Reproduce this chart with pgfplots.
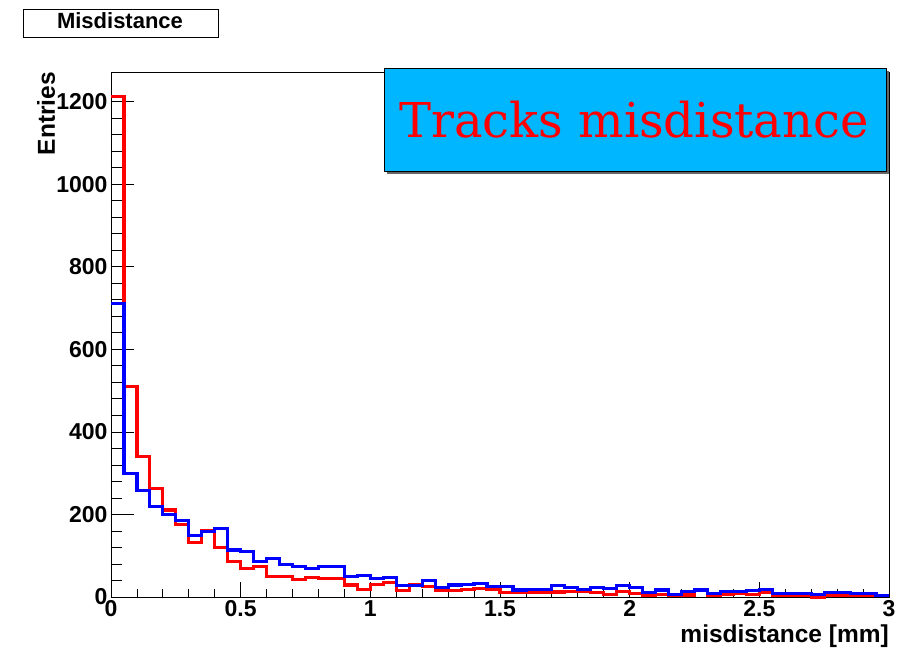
\documentclass[border=0pt]{standalone}
\usepackage{fontspec}
\setmainfont{Liberation Sans}
\newfontfamily\seriffont{DejaVu Serif}
\usepackage{pgfplots}
\pgfplotsset{compat=1.18}
\definecolor{boxblue}{RGB}{0,182,255}

\begin{document}
\begin{tikzpicture}[x=1pt,y=1pt]
\useasboundingbox (0,0) rectangle (906,649);
\begin{axis}[
  at={(111pt,52pt)}, anchor=south west,
  width=778pt, height=525pt, scale only axis,
  xmin=0, xmax=3, ymin=0, ymax=1272,
  clip=false,
  axis line style={black, line width=0.8pt},
  tick pos=left, tick align=inside,
  xtick={0,0.5,1,1.5,2,2.5,3},
  xticklabels={0,0.5,1,1.5,2,2.5,3},
  ytick={0,200,400,600,800,1000,1200},
  yticklabels={0,200,400,600,800,1000,1200},
  minor x tick num=4, minor y tick num=4,
  major tick length=23pt, minor tick length=11pt,
  xtick style={/pgfplots/major tick length=15pt, /pgfplots/minor tick length=8pt, black, line width=0.8pt},
  ytick style={black, line width=0.8pt},
  tick label style={font=\fontsize{23}{23}\selectfont\bfseries},
  /pgf/number format/assume math mode=true,
  every axis x label/.style={at={(rel axis cs:1,0)}, anchor=base east, yshift=-45pt, inner sep=0pt},
  every axis y label/.style={at={(rel axis cs:0,1)}, xshift=-56pt, rotate=90, anchor=base east, inner sep=0pt},
  label style={font=\fontsize{24.5}{24.5}\selectfont\bfseries},
  xlabel={misdistance [mm]},
  ylabel={Entries},
]
\addplot[const plot, red, line width=3.2pt] coordinates {
(0,1213)(0.05,510)(0.1,340)(0.15,263)(0.2,211)(0.25,175)(0.3,132)(0.35,162)(0.4,120)(0.45,86)
(0.5,70)(0.55,74)(0.6,49)(0.65,49)(0.7,43)(0.75,48)(0.8,45)(0.85,45)(0.9,29)(0.95,19)
(1,31)(1.05,35)(1.1,15)(1.15,31)(1.2,25)(1.25,17)(1.3,15)(1.35,18)(1.4,21)(1.45,18)
(1.5,11)(1.55,11)(1.6,10)(1.65,11)(1.7,12)(1.75,13)(1.8,13)(1.85,11)(1.9,7)(1.95,13)
(2,9)(2.05,4)(2.1,6)(2.15,4)(2.2,5)(2.25,18)(2.3,4)(2.35,6)(2.4,8)(2.45,7)
(2.5,10)(2.55,4)(2.6,4)(2.65,4)(2.7,0)(2.75,4)(2.8,4)(2.85,5)(2.9,5)(2.95,4)(3,4)
};
\addplot[const plot, blue, line width=3.2pt] coordinates {
(0,712)(0.05,300)(0.1,259)(0.15,219)(0.2,199)(0.25,185)(0.3,149)(0.35,158)(0.4,165)(0.45,114)
(0.5,110)(0.55,86)(0.6,93)(0.65,78)(0.7,73)(0.75,70)(0.8,73)(0.85,73)(0.9,49)(0.95,52)
(1,44)(1.05,48)(1.1,28)(1.15,28)(1.2,40)(1.25,23)(1.3,29)(1.35,31)(1.4,33)(1.45,25)
(1.5,25)(1.55,17)(1.6,19)(1.65,19)(1.7,27)(1.75,23)(1.8,19)(1.85,23)(1.9,20)(1.95,27)
(2,23)(2.05,11)(2.1,17)(2.15,7)(2.2,13)(2.25,17)(2.3,9)(2.35,13)(2.4,13)(2.45,15)
(2.5,19)(2.55,9)(2.6,9)(2.65,9)(2.7,7)(2.75,11)(2.8,11)(2.85,9)(2.9,9)(2.95,3)(3,3)
};
\end{axis}
% title box
\draw[black, line width=0.8pt] (23,612) rectangle (218,640);
\node[font=\fontsize{22}{22}\selectfont\bfseries, anchor=base, inner sep=0pt] at (120,620.7) {Misdistance};
% text box with shadow
\fill[gray!80!black] (387,475) rectangle (889,578);
\draw[black, line width=0.8pt, fill=boxblue] (384,478) rectangle (886,581);
\node[font=\fontsize{48}{48}\selectfont\seriffont, text=red, anchor=base, inner sep=0pt] at (634,511.7) {Tracks misdistance};
\end{tikzpicture}
\end{document}
